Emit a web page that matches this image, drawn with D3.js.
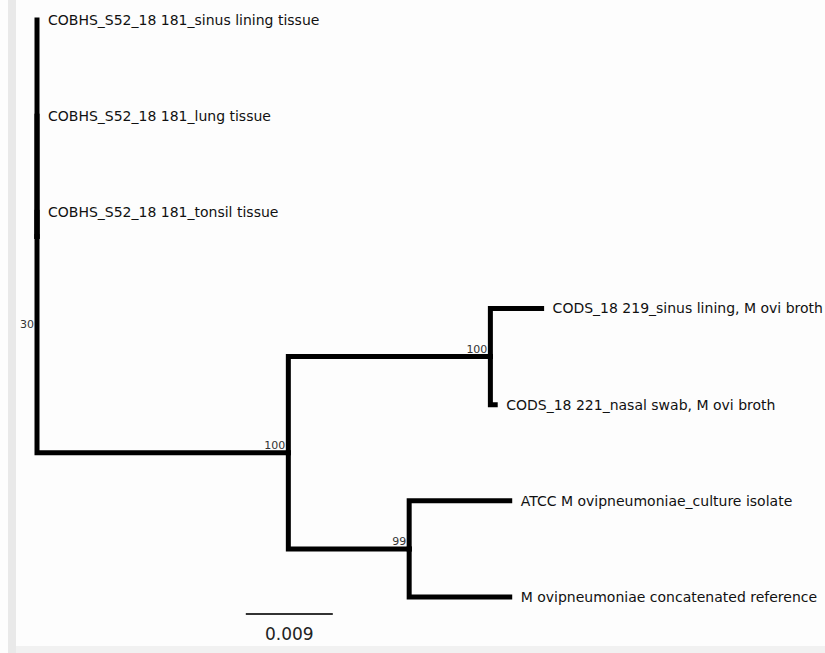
<!DOCTYPE html>
<html>
<head>
<meta charset="utf-8">
<script src="https://cdn.jsdelivr.net/npm/d3@7"></script>
<style>
  body { margin: 0; background: #fff; }
  svg { display: block; }
</style>
</head>
<body>
<div id="chart"></div>
<script>
// tips, in the order they are drawn top to bottom
const leafNames = [
    "COBHS_S52_18 181_sinus lining tissue",
    "COBHS_S52_18 181_lung tissue",
    "COBHS_S52_18 181_tonsil tissue",
    "CODS_18 219_sinus lining, M ovi broth",
    "CODS_18 221_nasal swab, M ovi broth",
    "ATCC M ovipneumoniae_culture isolate",
    "M ovipneumoniae concatenated reference"
];
const leafParents = ["root", "root", "root", "cods", "cods", "atcc", "atcc"];
const leafLengths = [0, 0, 0, 0.0053, 0.0005, 0.0104, 0.0104];

// internal nodes
const cladeNames = ["root", "inner", "cods", "atcc"];
const cladeParents = [null, "root", "inner", "inner"];
const cladeLengths = [0, 0.026, 0.0209, 0.0125];
const cladeSupport = [30, 100, 100, 99];

const scaleBarValue = 0.009;

const width = 825, height = 653;

const rows = cladeNames.map((n, i) => ({ id: n, parent: cladeParents[i], len: cladeLengths[i], support: cladeSupport[i] }))
    .concat(leafNames.map((n, i) => ({ id: n, parent: leafParents[i], len: leafLengths[i], row: i })));

const root = d3.stratify()
    .id(d => d.id)
    .parentId(d => d.parent)(rows);

const x = d3.scaleLinear()
    .domain([0, 0.05])
    .range([37, 37 + 0.05 * 9667]);

const y = d3.scaleLinear()
    .domain([0, leafNames.length - 1])
    .range([20, 597]);

// cumulative distance from root, tips spaced evenly, nodes midway between outer children
root.eachBefore(d => { d.dist = (d.parent ? d.parent.dist : 0) + d.data.len; });
root.eachAfter(d => {
    if (d.children) {
        const ys = d.children.map(c => c.py);
        d.py = (d3.min(ys) + d3.max(ys)) / 2;
    } else {
        d.py = y(d.data.row);
    }
});

const svg = d3.select("#chart")
    .append("svg")
    .attr("width", width)
    .attr("height", height);

// frame bits from the viewer window
svg.append("rect").attr("x", 0).attr("y", 0).attr("width", width).attr("height", height).attr("fill", "#fdfdfd");
svg.append("rect").attr("x", 8).attr("y", 0).attr("width", 8).attr("height", height).attr("fill", "#e9e9e9");
svg.append("rect").attr("x", 16).attr("y", 646).attr("width", width - 16).attr("height", 7).attr("fill", "#f1f1f1");

const g = svg.append("g");

// branches: down/up from parent node then across to child
g.selectAll("path.branch")
    .data(root.links())
    .enter().append("path")
    .attr("class", "branch")
    .attr("d", l => "M" + x(l.source.dist) + "," + l.source.py +
        "V" + l.target.py + "H" + x(l.target.dist))
    .attr("fill", "none")
    .attr("stroke", "#000")
    .attr("stroke-width", 5)
    .attr("stroke-linecap", "square");

g.selectAll("text.tip")
    .data(root.leaves())
    .enter().append("text")
    .attr("class", "tip")
    .attr("x", d => x(d.dist) + 11)
    .attr("y", d => d.py)
    .attr("dy", "0.35em")
    .style("font-family", "'DejaVu Sans', sans-serif")
    .style("font-size", "14px")
    .attr("fill", "#111")
    .text(d => d.id);

// support values; the root one sits lower down its stem
const rootLabelRow = 3.16;
g.selectAll("text.support")
    .data(root.descendants().filter(d => d.children))
    .enter().append("text")
    .attr("class", "support")
    .attr("x", d => x(d.dist) - 3)
    .attr("y", d => d.parent ? d.py - 4 : y(rootLabelRow) + 4)
    .attr("text-anchor", "end")
    .style("font-family", "'DejaVu Sans', sans-serif")
    .style("font-size", "11px")
    .attr("fill", "#333")
    .text(d => d.data.support);

// scale bar
const barStart = 0.0216;
g.append("line")
    .attr("x1", x(barStart))
    .attr("x2", x(barStart + scaleBarValue))
    .attr("y1", 614)
    .attr("y2", 614)
    .attr("stroke", "#333")
    .attr("stroke-width", 2);

g.append("text")
    .attr("x", x(barStart + scaleBarValue / 2))
    .attr("y", 640)
    .attr("text-anchor", "middle")
    .style("font-family", "'DejaVu Sans', sans-serif")
    .style("font-size", "17px")
    .attr("fill", "#222")
    .text(d3.format(".3f")(scaleBarValue));
</script>
</body>
</html>
